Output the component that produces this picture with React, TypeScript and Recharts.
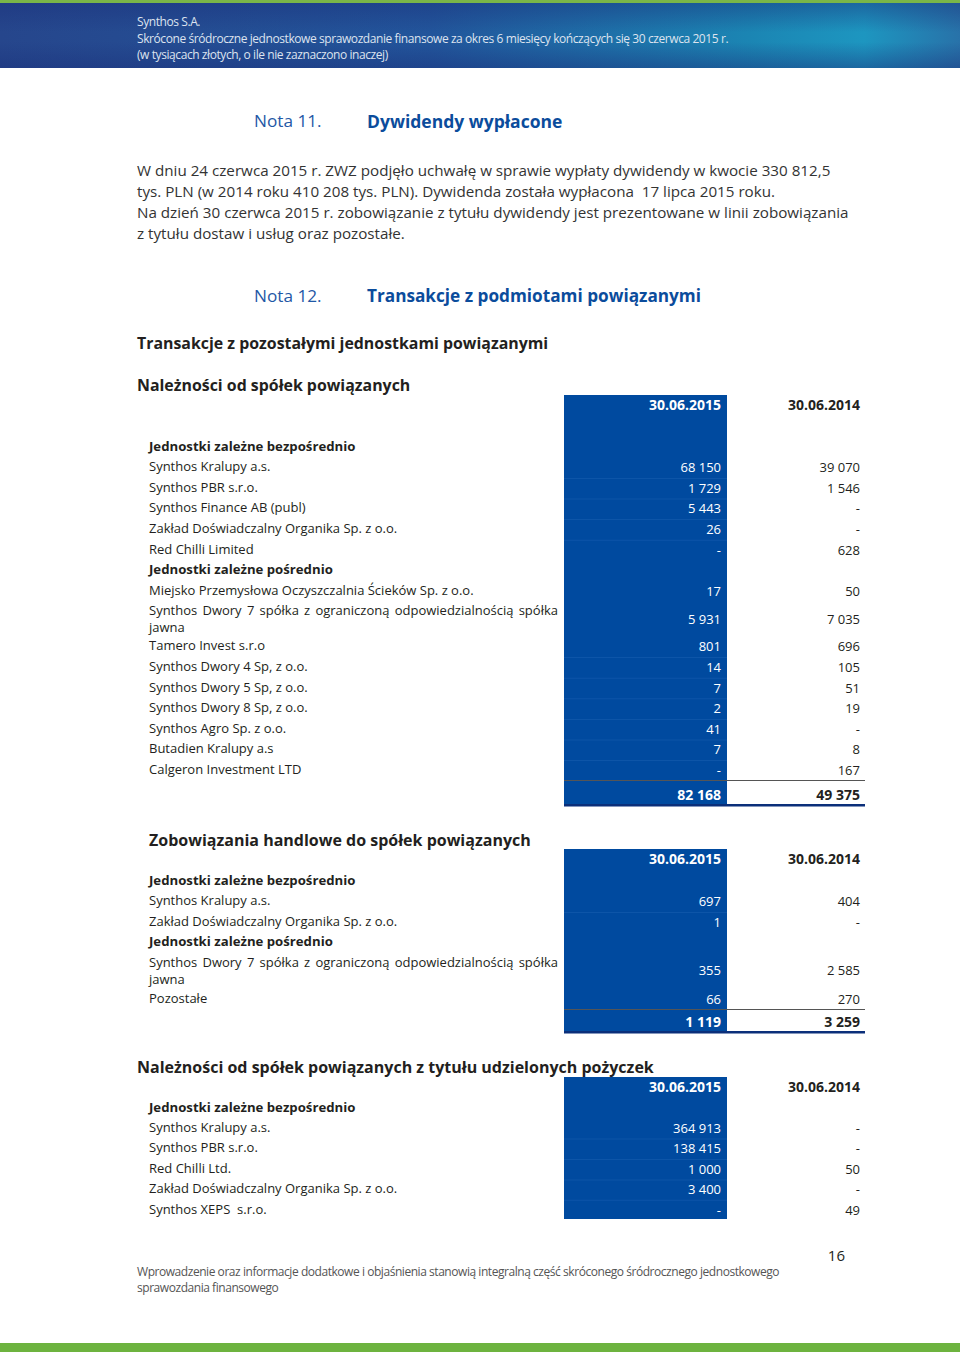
import React from 'react';
import { Surface, Rectangle, Layer } from 'recharts';

const headerLines = [
  'Synthos S.A.',
  'Skrócone śródroczne jednostkowe sprawozdanie finansowe za okres 6 miesięcy kończących się 30 czerwca 2015 r.',
  '(w tysiącach złotych, o ile nie zaznaczono inaczej)',
];
const note11 = ['Nota 11.', 'Dywidendy wypłacone'];
const note11Text = [
  'W dniu 24 czerwca 2015 r. ZWZ podjęło uchwałę w sprawie wypłaty dywidendy w kwocie 330 812,5',
  'tys. PLN (w 2014 roku 410 208 tys. PLN). Dywidenda została wypłacona  17 lipca 2015 roku.',
  'Na dzień 30 czerwca 2015 r. zobowiązanie z tytułu dywidendy jest prezentowane w linii zobowiązania',
  'z tytułu dostaw i usług oraz pozostałe.',
];
const note12 = ['Nota 12.', 'Transakcje z podmiotami powiązanymi'];
const sectionTitle = 'Transakcje z pozostałymi jednostkami powiązanymi';
const dates = ['30.06.2015', '30.06.2014'];

// Należności od spółek powiązanych
const recTitle = 'Należności od spółek powiązanych';
const recLabels = [
  'Jednostki zależne bezpośrednio',
  'Synthos Kralupy a.s.',
  'Synthos PBR s.r.o.',
  'Synthos Finance AB (publ)',
  'Zakład Doświadczalny Organika Sp. z o.o.',
  'Red Chilli Limited',
  'Jednostki zależne pośrednio',
  'Miejsko Przemysłowa Oczyszczalnia Ścieków Sp. z o.o.',
  'Synthos Dwory 7 spółka z ograniczoną odpowiedzialnością spółka\njawna',
  'Tamero Invest s.r.o',
  'Synthos Dwory 4 Sp, z o.o.',
  'Synthos Dwory 5 Sp, z o.o.',
  'Synthos Dwory 8 Sp, z o.o.',
  'Synthos Agro Sp. z o.o.',
  'Butadien Kralupy a.s',
  'Calgeron Investment LTD',
];
const rec2015 = [null, '68 150', '1 729', '5 443', '26', '-', null, '17', '5 931', '801', '14', '7', '2', '41', '7', '-'];
const rec2014 = [null, '39 070', '1 546', '-', '-', '628', null, '50', '7 035', '696', '105', '51', '19', '-', '8', '167'];
const recTotal = ['82 168', '49 375'];

// Zobowiązania handlowe do spółek powiązanych
const payTitle = 'Zobowiązania handlowe do spółek powiązanych';
const payLabels = [
  'Jednostki zależne bezpośrednio',
  'Synthos Kralupy a.s.',
  'Zakład Doświadczalny Organika Sp. z o.o.',
  'Jednostki zależne pośrednio',
  'Synthos Dwory 7 spółka z ograniczoną odpowiedzialnością spółka\njawna',
  'Pozostałe',
];
const pay2015 = [null, '697', '1', null, '355', '66'];
const pay2014 = [null, '404', '-', null, '2 585', '270'];
const payTotal = ['1 119', '3 259'];

// Należności z tytułu udzielonych pożyczek
const loanTitle = 'Należności od spółek powiązanych z tytułu udzielonych pożyczek';
const loanLabels = [
  'Jednostki zależne bezpośrednio',
  'Synthos Kralupy a.s.',
  'Synthos PBR s.r.o.',
  'Red Chilli Ltd.',
  'Zakład Doświadczalny Organika Sp. z o.o.',
  'Synthos XEPS  s.r.o.',
];
const loan2015 = [null, '364 913', '138 415', '1 000', '3 400', '-'];
const loan2014 = [null, '-', '-', '50', '-', '49'];

const footerLines = [
  'Wprowadzenie oraz informacje dodatkowe i objaśnienia stanowią integralną część skróconego śródrocznego jednostkowego',
  'sprawozdania finansowego',
];
const pageNo = '16';

const FONT = '"Open Sans", "Noto Sans", sans-serif';
const BLUE = '#004a9f';
const COL_X = 564;
const COL_W = 163;
const RIGHT_2015 = 721;
const RIGHT_2014 = 860;
const TABLE_END = 865;

type TProps = {
  x: number;
  y: number;
  size: number;
  bold?: boolean;
  color?: string;
  right?: boolean;
  ls?: number;
  children: React.ReactNode;
};

const T = ({ x, y, size, bold, color = '#231f20', right, ls = 0, children }: TProps) => {
  const lh = Math.round(size * 1.3);
  const style: React.CSSProperties = {
    position: 'absolute',
    top: y - lh / 2,
    height: lh,
    lineHeight: `${lh}px`,
    fontSize: size,
    fontWeight: bold ? 700 : 400,
    color,
    fontFamily: FONT,
    whiteSpace: 'pre',
    letterSpacing: ls,
  };
  if (right) {
    style.left = x - 300;
    style.width = 300;
    style.textAlign = 'right';
  } else {
    style.left = x;
  }
  return <div style={style}>{children}</div>;
};

// justified line: words spread over a fixed width
const J = ({ x, y, size, width, text }: { x: number; y: number; size: number; width: number; text: string }) => {
  const lh = Math.round(size * 1.3);
  return (
    <div
      style={{
        position: 'absolute',
        left: x,
        top: y - lh / 2,
        width,
        height: lh,
        lineHeight: `${lh}px`,
        fontSize: size,
        fontFamily: FONT,
        color: '#231f20',
        display: 'flex',
        justifyContent: 'space-between',
        whiteSpace: 'pre',
      }}
    >
      {text.split(' ').map((w, i) => (
        <span key={i}>{w}</span>
      ))}
    </div>
  );
};

type Row = { label: string; y: number; v15: string | null; v14: string | null; wrapped: boolean };

const layoutRows = (labels: string[], v15: (string | null)[], v14: (string | null)[], startY: number, pitch: number, wrapExtra: number) => {
  const rows: Row[] = [];
  let y = startY;
  labels.forEach((label, i) => {
    const wrapped = label.includes('\n');
    rows.push({ label, y, v15: v15[i], v14: v14[i], wrapped });
    y += pitch + (wrapped ? wrapExtra : 0);
  });
  return rows;
};

const recRows = layoutRows(recLabels, rec2015, rec2014, 446, 20.6, 14.4);
const payRows = layoutRows(payLabels, pay2015, pay2014, 880, 20.6, 15);
const loanRows = layoutRows(loanLabels, loan2015, loan2014, 1107, 20.4, 14.4);

const rowSeparators = (rows: Row[]) => {
  const ys: number[] = [];
  for (let i = 0; i < rows.length - 1; i++) {
    const a = rows[i];
    const b = rows[i + 1];
    if (a.v15 !== null && b.v15 !== null && !a.wrapped && !b.wrapped) ys.push((a.y + b.y) / 2 + 1);
  }
  return ys;
};

const LS = 13;

const TableText = ({ rows }: { rows: Row[] }) => (
  <>
    {rows.map((r, i) => {
      const isSub = r.v15 === null;
      const vy = r.wrapped ? r.y + 8.5 : r.y + 1;
      return (
        <React.Fragment key={i}>
          {r.wrapped ? (
            <>
              <J x={149} y={r.y} size={LS} width={409} text={r.label.split('\n')[0]} />
              <T x={149} y={r.y + 17} size={LS}>{r.label.split('\n')[1]}</T>
            </>
          ) : (
            <T x={149} y={r.y} size={isSub ? 13.2 : LS} bold={isSub}>{r.label}</T>
          )}
          {!isSub && (
            <>
              <T x={RIGHT_2015} y={vy} size={LS} right color="#ffffff">{r.v15}</T>
              <T x={RIGHT_2014} y={vy} size={LS} right>{r.v14}</T>
            </>
          )}
        </React.Fragment>
      );
    })}
  </>
);

const DateHeader = ({ y }: { y: number }) => (
  <>
    <T x={RIGHT_2015} y={y} size={14} bold right color="#ffffff">{dates[0]}</T>
    <T x={RIGHT_2014} y={y} size={14} bold right>{dates[1]}</T>
  </>
);

const Shapes = () => (
  <Surface width={960} height={1352} style={{ position: 'absolute', left: 0, top: 0 }}>
    <defs>
      <linearGradient id="hdrH" x1="0" y1="0" x2="1" y2="0">
        <stop offset="0%" stopColor="#26468c" />
        <stop offset="45%" stopColor="#22559b" />
        <stop offset="78%" stopColor="#1b85b3" />
        <stop offset="90%" stopColor="#1d96c0" />
        <stop offset="100%" stopColor="#2872a9" />
      </linearGradient>
      <linearGradient id="hdrV" x1="0" y1="0" x2="0" y2="1">
        <stop offset="0%" stopColor="#1a2f7a" stopOpacity={0.45} />
        <stop offset="45%" stopColor="#1a2f7a" stopOpacity={0} />
        <stop offset="60%" stopColor="#1a2f7a" stopOpacity={0} />
        <stop offset="100%" stopColor="#1a2f7a" stopOpacity={0.45} />
      </linearGradient>
    </defs>
    <Layer>
      <Rectangle x={0} y={0} width={960} height={3} fill="#7ab648" />
      <Rectangle x={0} y={3} width={960} height={65} fill="url(#hdrH)" />
      <Rectangle x={0} y={3} width={960} height={65} fill="url(#hdrV)" />
    </Layer>
    <Layer>
      <Rectangle x={COL_X} y={395} width={COL_W} height={410} fill={BLUE} />
      {rowSeparators(recRows).map((y, i) => (
        <Rectangle key={`r${i}`} x={COL_X} y={y} width={COL_W} height={1} fill="#0d55a8" />
      ))}
      <Rectangle x={COL_X} y={780} width={TABLE_END - COL_X} height={1} fill="#555555" />
      <Rectangle x={COL_X} y={804} width={TABLE_END - COL_X} height={2.5} fill="#0b2f7a" />

      <Rectangle x={COL_X} y={849} width={COL_W} height={182} fill={BLUE} />
      {rowSeparators(payRows).map((y, i) => (
        <Rectangle key={`p${i}`} x={COL_X} y={y} width={COL_W} height={1} fill="#0d55a8" />
      ))}
      <Rectangle x={COL_X} y={1009} width={TABLE_END - COL_X} height={1} fill="#555555" />
      <Rectangle x={COL_X} y={1031} width={TABLE_END - COL_X} height={2.5} fill="#0b2f7a" />

      <Rectangle x={COL_X} y={1077} width={COL_W} height={142} fill={BLUE} />
      {rowSeparators(loanRows).map((y, i) => (
        <Rectangle key={`l${i}`} x={COL_X} y={y} width={COL_W} height={1} fill="#0d55a8" />
      ))}
    </Layer>
    <Rectangle x={0} y={1343} width={960} height={9} fill="#6db33f" />
  </Surface>
);

export default function App() {
  return (
    <div style={{ position: 'absolute', left: 0, top: 0, width: 960, height: 1352, background: '#ffffff', overflow: 'hidden' }}>
      <Shapes />
      {headerLines.map((l, i) => (
        <T key={i} x={137} y={22 + i * 16.5} size={12} ls={-0.42} color="#dde3ef">{l}</T>
      ))}

      <T x={254} y={121} size={17.2} color="#1f58a6">{note11[0]}</T>
      <T x={367} y={121} size={17.5} bold color="#0b4c9c">{note11[1]}</T>
      {note11Text.map((l, i) => (
        <T key={i} x={137} y={170 + i * 21} size={15.2} color="#333333">{l}</T>
      ))}

      <T x={254} y={296} size={17.2} color="#1f58a6">{note12[0]}</T>
      <T x={367} y={296} size={17.2} bold color="#0b4c9c">{note12[1]}</T>

      <T x={137} y={343} size={15.9} bold>{sectionTitle}</T>
      <T x={137} y={385} size={15.9} bold>{recTitle}</T>
      <DateHeader y={405} />
      <TableText rows={recRows} />
      <T x={RIGHT_2015} y={795} size={14} bold right color="#ffffff">{recTotal[0]}</T>
      <T x={RIGHT_2014} y={795} size={14} bold right>{recTotal[1]}</T>

      <T x={149} y={840} size={16} bold>{payTitle}</T>
      <DateHeader y={859} />
      <TableText rows={payRows} />
      <T x={RIGHT_2015} y={1022} size={14} bold right color="#ffffff">{payTotal[0]}</T>
      <T x={RIGHT_2014} y={1022} size={14} bold right>{payTotal[1]}</T>

      <T x={137} y={1067} size={16} bold>{loanTitle}</T>
      <DateHeader y={1087} />
      <TableText rows={loanRows} />

      <T x={845} y={1255} size={15} right>{pageNo}</T>
      {footerLines.map((l, i) => (
        <T key={i} x={137} y={1272 + i * 16} size={12} ls={-0.45} color="#555555">{l}</T>
      ))}
    </div>
  );
}
